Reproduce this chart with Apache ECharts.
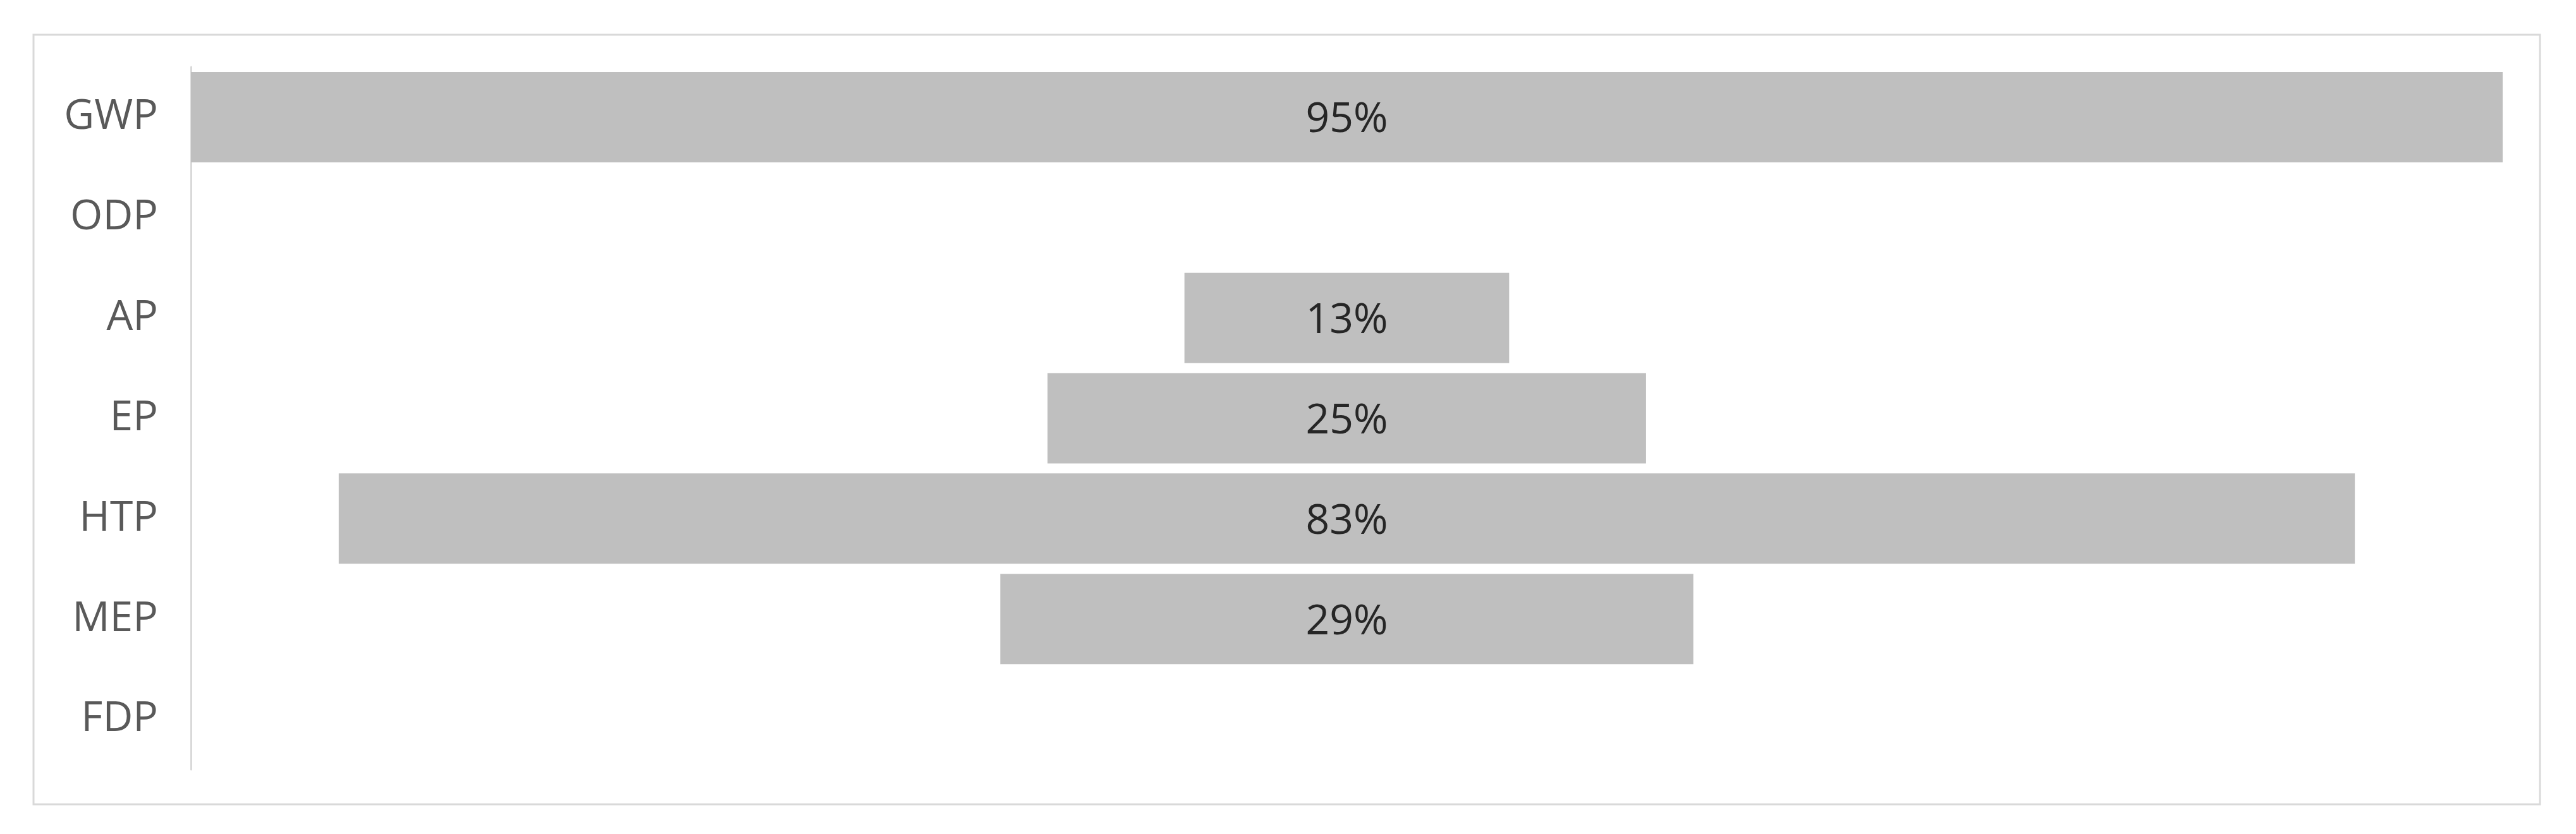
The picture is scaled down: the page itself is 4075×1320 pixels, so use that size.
<!DOCTYPE html>
<html>
<head>
<meta charset="utf-8">
<script src="https://cdn.jsdelivr.net/npm/echarts@6/dist/echarts.min.js"></script>
<style>html,body{margin:0;padding:0;background:#fff}#c{width:4075px;height:1320px}</style>
</head>
<body>
<div id="c"></div>
<script>
const categories = ['GWP', 'ODP', 'AP', 'EP', 'HTP', 'MEP', 'FDP'];
const values = [95.4, 0, 13.4, 24.7, 83.2, 28.6, 0];

const maxVal = Math.max(...values);
const spacer = values.map(v => (maxVal - v) / 2);

const chart = echarts.init(document.getElementById('c'), null, {renderer: 'canvas'});
chart.setOption({
  animation: false,
  backgroundColor: '#ffffff',
  graphic: [{
    type: 'rect',
    shape: {x: 53, y: 55, width: 3965, height: 1218},
    style: {fill: 'none', stroke: '#d9d9d9', lineWidth: 3},
    silent: true
  }],
  grid: {left: 302, right: 116, top: 106, bottom: 102, containLabel: false},
  xAxis: {
    type: 'value', min: 0, max: maxVal,
    show: false
  },
  yAxis: {
    type: 'category', data: categories, inverse: true,
    axisLine: {show: true, lineStyle: {color: '#d9d9d9', width: 3}},
    axisTick: {show: false},
    splitLine: {show: false},
    axisLabel: {margin: 52, fontSize: 66, color: '#595959', fontFamily: 'Open Sans', padding: [10, 0, 0, 0]}
  },
  series: [
    {
      type: 'bar', stack: 'f', data: spacer, barCategoryGap: '10%',
      itemStyle: {color: 'rgba(0,0,0,0)'}, silent: true
    },
    {
      type: 'bar', stack: 'f', data: values, barCategoryGap: '10%',
      itemStyle: {color: '#bfbfbf'},
      label: {
        show: true, position: 'inside', fontSize: 66, color: '#262626', fontFamily: 'Open Sans',
        offset: [0, 5],
        formatter: p => p.value > 0 ? Math.round(p.value) + '%' : ''
      }
    }
  ]
});
</script>
</body>
</html>
